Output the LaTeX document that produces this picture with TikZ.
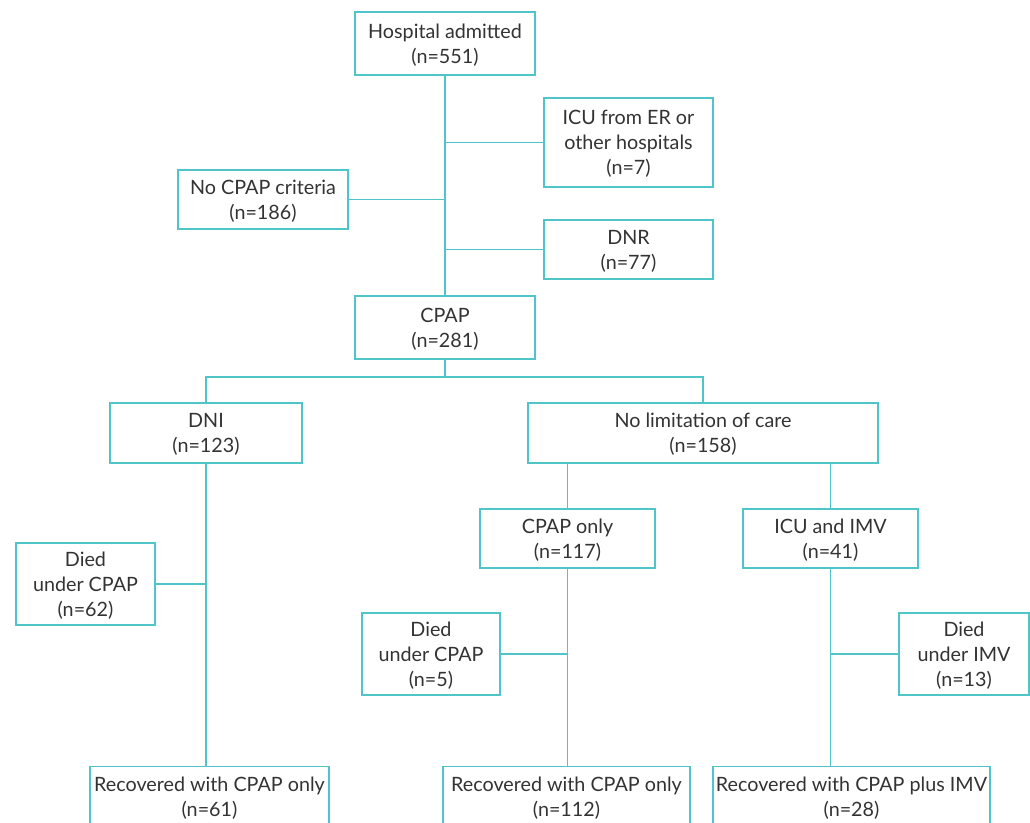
\documentclass[tikz,border=0pt]{standalone}
\usepackage{fontspec}
\setmainfont{Lato}
\usetikzlibrary{calc}
\definecolor{frame}{HTML}{4FC4C9}
\definecolor{ink}{HTML}{333333}

\begin{document}
\begin{tikzpicture}[x=0.75pt,y=-0.75pt,
    box/.style={draw=frame,line width=1pt,text=ink,align=center,inner sep=0pt,
      text depth=-0.5pt,font=\fontsize{14.8}{18.8}\selectfont},
    link/.style={draw=frame,line width=1pt}]
  \useasboundingbox (0,0) rectangle (1030,822);
  \clip (0,0) rectangle (1030,822);

  % top branch
  \node[box,minimum width=180*0.75pt,minimum height=63*0.75pt] (hosp) at (445,43.5) {Hospital admitted\\(n=551)};
  \node[box,minimum width=169*0.75pt,minimum height=89*0.75pt] (icu) at (628.5,142.5) {ICU from ER or\\other hospitals\\(n=7)};
  \node[box,minimum width=170*0.75pt,minimum height=59*0.75pt] (nocpap) at (263,199.5) {No CPAP criteria\\(n=186)};
  \node[box,minimum width=169*0.75pt,minimum height=59*0.75pt] (dnr) at (628.5,249.5) {DNR\\(n=77)};
  \node[box,minimum width=180*0.75pt,minimum height=63*0.75pt] (cpap) at (445,327.5) {CPAP\\(n=281)};

  % second level
  \node[box,minimum width=192*0.75pt,minimum height=60*0.75pt] (dni) at (206,433) {DNI\\(n=123)};
  \node[box,minimum width=350*0.75pt,minimum height=60*0.75pt] (nolim) at (703,433) {No limitation of care\\(n=158)};
  \node[box,minimum width=175*0.75pt,minimum height=59*0.75pt] (cponly) at (567.5,538.5) {CPAP only\\(n=117)};
  \node[box,minimum width=175*0.75pt,minimum height=59*0.75pt] (imv) at (830.5,538.5) {ICU and IMV\\(n=41)};

  % outcomes
  \node[box,minimum width=139*0.75pt,minimum height=82*0.75pt] (diedl) at (85.5,584) {Died\\under CPAP\\(n=62)};
  \node[box,minimum width=138*0.75pt,minimum height=82*0.75pt] (diedm) at (431,654) {Died\\under CPAP\\(n=5)};
  \node[box,minimum width=130*0.75pt,minimum height=82*0.75pt] (diedr) at (964,654) {Died\\under IMV\\(n=13)};
  \node[box,minimum width=239*0.75pt,minimum height=60*0.75pt,anchor=north] (recl) at (209.5,766) {Recovered with CPAP only\\(n=61)};
  \node[box,minimum width=247*0.75pt,minimum height=60*0.75pt,anchor=north] (recm) at (566.5,766) {Recovered with CPAP only\\(n=112)};
  \node[box,minimum width=277*0.75pt,minimum height=60*0.75pt,anchor=north] (recr) at (851.5,766) {Recovered with CPAP plus IMV\\(n=28)};

  % connectors
  \draw[link] (hosp.south) -- (cpap.north);
  \draw[link] (icu.west) -- (icu.west -| hosp.south);
  \draw[link] (nocpap.east) -- (nocpap.east -| hosp.south);
  \draw[link] (dnr.west) -- (dnr.west -| hosp.south);
  \coordinate (split) at (445,377);
  \draw[link] (cpap.south) -- (split);
  \draw[link] (dni.north) |- (split) -| (nolim.north);
  \draw[link] (dni.south) -- (dni.south |- recl.north);
  \draw[link] (diedl.east) -- (diedl.east -| dni.south);
  \draw[link] (nolim.south -| cponly.north) -- (cponly.north);
  \draw[link] (nolim.south -| imv.north) -- (imv.north);
  \draw[link] (cponly.south) -- (cponly.south |- recm.north);
  \draw[link] (diedm.east) -- (diedm.east -| cponly.south);
  \draw[link] (imv.south) -- (imv.south |- recr.north);
  \draw[link] (diedr.west) -- (diedr.west -| imv.south);
\end{tikzpicture}
\end{document}
